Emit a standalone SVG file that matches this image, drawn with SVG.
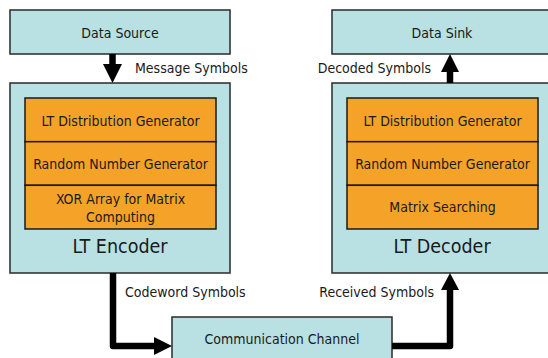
<svg xmlns="http://www.w3.org/2000/svg" width="548" height="358" viewBox="0 0 548 358">
  <defs>
    <style>
      .outer { fill: #b9e0e3; stroke: #2a2a2a; stroke-width: 1.5; }
      .block { fill: #f4a328; stroke: #1a1a1a; stroke-width: 1.5; }
      text { font-family: "DejaVu Sans", "Liberation Sans", sans-serif; font-stretch: condensed; fill: #1a1a1a; font-size: 14px; }
      .mid { text-anchor: middle; }
      .end { text-anchor: end; }
      .big { font-size: 19.5px; }
      .wire { fill: none; stroke: #000; stroke-width: 6.5; stroke-linejoin: round; stroke-linecap: butt; }
      .head { fill: #000; }
    </style>
  </defs>
  <rect width="548" height="358" fill="#fff"/>

  <g id="data-source">
    <rect class="outer" x="10" y="10" width="220" height="44"/>
    <text class="mid" x="120" y="38">Data Source</text>
  </g>

  <g id="data-sink">
    <rect class="outer" x="332" y="10" width="220" height="44"/>
    <text class="mid" x="442" y="38">Data Sink</text>
  </g>

  <g id="lt-encoder">
    <rect class="outer" x="10" y="83" width="220" height="190"/>
    <rect class="block" x="25" y="98" width="191" height="43.7"/>
    <rect class="block" x="25" y="141.7" width="191" height="43.6"/>
    <rect class="block" x="25" y="185.3" width="191" height="43.7"/>
    <text class="mid" x="120.5" y="126">LT Distribution Generator</text>
    <text class="mid" x="120.5" y="169">Random Number Generator</text>
    <text class="mid" x="120.5" y="204">XOR Array for Matrix</text>
    <text class="mid" x="120.5" y="222">Computing</text>
    <text class="mid big" x="120" y="253">LT Encoder</text>
  </g>

  <g id="lt-decoder">
    <rect class="outer" x="332" y="83" width="220" height="190"/>
    <rect class="block" x="347" y="98" width="191" height="43.7"/>
    <rect class="block" x="347" y="141.7" width="191" height="43.6"/>
    <rect class="block" x="347" y="185.3" width="191" height="43.7"/>
    <text class="mid" x="442.5" y="126">LT Distribution Generator</text>
    <text class="mid" x="442.5" y="169">Random Number Generator</text>
    <text class="mid" x="442.5" y="212">Matrix Searching</text>
    <text class="mid big" x="442" y="253">LT Decoder</text>
  </g>

  <g id="communication-channel">
    <rect class="outer" x="172" y="317" width="220" height="60"/>
    <text class="mid" x="282" y="344">Communication Channel</text>
  </g>

  <g id="connectors">
    <!-- source to encoder -->
    <path class="wire" d="M112.5,54 V65"/>
    <polygon class="head" points="103,64 122,64 112.5,83"/>
    <text x="135" y="73">Message Symbols</text>

    <!-- decoder to sink -->
    <path class="wire" d="M450,83 V71"/>
    <polygon class="head" points="441,72 459,72 450,54"/>
    <text class="end" x="431" y="73">Decoded Symbols</text>

    <!-- encoder to channel -->
    <path class="wire" d="M113,273 V346 H156"/>
    <polygon class="head" points="154,337 172,346 154,355"/>
    <text x="125" y="297">Codeword Symbols</text>

    <!-- channel to decoder -->
    <path class="wire" d="M392,346 H450 V288"/>
    <polygon class="head" points="441,290 450,273 459,290"/>
    <text class="end" x="434" y="297">Received Symbols</text>
  </g>
</svg>
